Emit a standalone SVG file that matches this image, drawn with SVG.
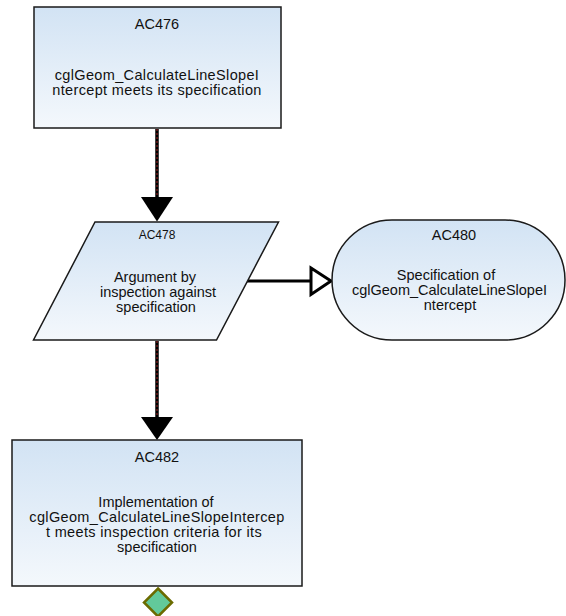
<svg xmlns="http://www.w3.org/2000/svg" width="566" height="616" viewBox="0 0 566 616">
  <defs>
    <linearGradient id="nodeFill" x1="0" y1="0" x2="0" y2="1">
      <stop offset="0" stop-color="#d2e3f4"/>
      <stop offset="1" stop-color="#f4f8fc"/>
    </linearGradient>
  </defs>
  <style>
    .node { fill: url(#nodeFill); stroke: #1a1a1a; stroke-width: 1.5; }
    .label { font-family: "Liberation Sans", Arial, sans-serif; font-size: 14.5px; fill: #111; text-anchor: middle; }
    .wide { letter-spacing: 0.35px; }
    .small { font-size: 12px; }
    .core { fill: none; stroke: #000; stroke-width: 3.5; }
    .trace { fill: none; stroke: #a02020; stroke-width: 1; stroke-dasharray: 2 2; }
    .ctx { fill: none; stroke: #000; stroke-width: 3; }
    .hollow { fill: #fff; stroke: #000; stroke-width: 3; stroke-linejoin: miter; }
  </style>

  <!-- connectors -->
  <g id="connectors">
    <!-- AC476 -> AC478 -->
    <line class="core" x1="157" y1="129" x2="157" y2="198"/>
    <line class="trace" x1="157" y1="129" x2="157" y2="198"/>
    <path d="M141,197 L173,197 L157,221.5 Z" fill="#000"/>
    <!-- AC478 -> AC482 -->
    <line class="core" x1="157" y1="341" x2="157" y2="418"/>
    <line class="trace" x1="157" y1="341" x2="157" y2="418"/>
    <path d="M141,417 L173,417 L157,440 Z" fill="#000"/>
    <!-- AC478 -> AC480 (in context of) -->
    <line class="ctx" x1="247" y1="281" x2="311" y2="281"/>
    <path class="hollow" d="M311,268 L331,281 L311,294.5 Z"/>
  </g>

  <g id="AC476">
    <rect class="node" x="34" y="7" width="247" height="121"/>
    <text class="label" x="157" y="29">AC476</text>
    <text class="label wide" x="157" y="80">cglGeom_CalculateLineSlopeI</text>
    <text class="label wide" x="157" y="95">ntercept meets its specification</text>
  </g>

  <g id="AC478">
    <path class="node" d="M95,222 L278.5,222 L216.5,340 L33.5,340 Z"/>
    <text class="label small" x="157" y="239">AC478</text>
    <text class="label" x="155" y="282">Argument by</text>
    <text class="label" x="158" y="297">inspection against</text>
    <text class="label" x="156" y="312">specification</text>
  </g>

  <g id="AC480">
    <rect class="node" x="332" y="220" width="233" height="120" rx="60" ry="60"/>
    <text class="label" x="454" y="240">AC480</text>
    <text class="label" x="446" y="280">Specification of</text>
    <text class="label" x="449.5" y="295">cglGeom_CalculateLineSlopeI</text>
    <text class="label" x="450" y="310">ntercept</text>
  </g>

  <g id="AC482">
    <rect class="node" x="12" y="440" width="290" height="146"/>
    <text class="label" x="157" y="461.5">AC482</text>
    <text class="label" x="156" y="507">Implementation of</text>
    <text class="label wide" x="157" y="522">cglGeom_CalculateLineSlopeIntercep</text>
    <text class="label wide" x="154" y="537">t meets inspection criteria for its</text>
    <text class="label" x="157" y="552">specification</text>
  </g>

  <g id="AC482-undeveloped">
    <path d="M158,588.5 L172,602.5 L158,616.5 L144,602.5 Z" fill="#62c99a" stroke="#6b6b00" stroke-width="2.5"/>
  </g>
</svg>
